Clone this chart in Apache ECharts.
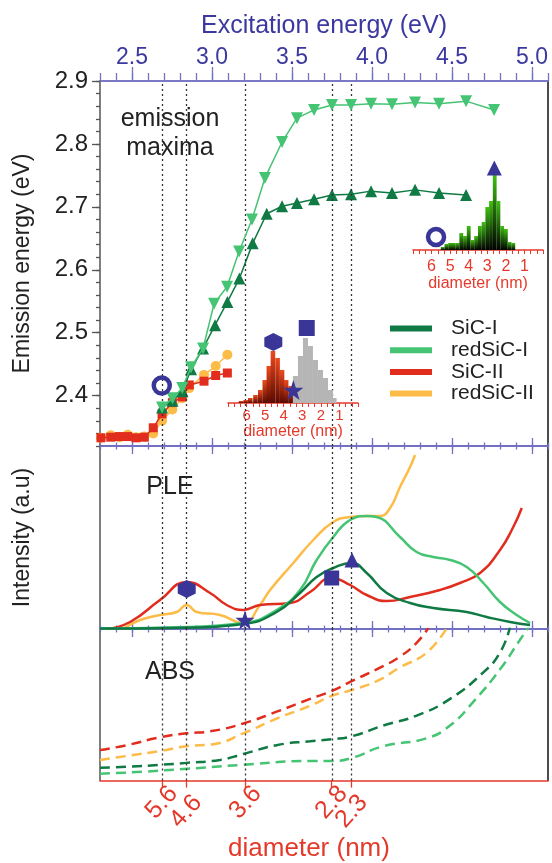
<!DOCTYPE html>
<html>
<head>
<meta charset="utf-8">
<script src="https://cdn.jsdelivr.net/npm/echarts@6/dist/echarts.min.js"></script>
<style>
html, body { margin: 0; padding: 0; background: #fff; }
#main { width: 552px; height: 863px; }
</style>
</head>
<body>
<div id="main"></div>
<script>
var FONT = 'Liberation Sans, Arial, sans-serif';
var BLUE = '#3a3697', AXBLUE = '#7471c4', LBLUE = '#3b38a0';
var RED = '#e5392b';
var C_SIC1 = '#0f7a44', C_RED1 = '#45c473', C_SIC2 = '#e12d1d', C_RED2 = '#fdbb47';

// tick labels
var exMajor = [2.5, 3.0, 3.5, 4.0, 4.5, 5.0];
var emMajor = [2.4, 2.5, 2.6, 2.7, 2.8, 2.9];
var diamEv = [2.686, 2.838, 3.21, 3.748, 3.873];
var diamLabels = ['5.6', '4.6', '3.6', '2.8', '2.3'];

// emission maxima (excitation eV -> emission eV)
var exSiC1 = [2.688, 2.753, 2.816, 2.869, 2.944, 3.019, 3.096, 3.171, 3.254, 3.342, 3.438, 3.531, 3.638, 3.750, 3.869, 3.994, 4.125, 4.269, 4.419, 4.588];
var emSiC1 = [2.381, 2.392, 2.407, 2.442, 2.475, 2.512, 2.549, 2.586, 2.642, 2.689, 2.701, 2.706, 2.712, 2.719, 2.720, 2.725, 2.722, 2.727, 2.722, 2.719];
var exRed1 = [2.688, 2.753, 2.814, 2.869, 2.944, 3.013, 3.094, 3.169, 3.250, 3.331, 3.438, 3.531, 3.638, 3.750, 3.869, 3.994, 4.125, 4.269, 4.419, 4.588, 4.763];
var emRed1 = [2.381, 2.396, 2.412, 2.445, 2.475, 2.546, 2.573, 2.629, 2.680, 2.746, 2.803, 2.841, 2.854, 2.862, 2.862, 2.864, 2.863, 2.866, 2.864, 2.868, 2.854];
var exSiC2 = [2.306, 2.367, 2.421, 2.473, 2.525, 2.577, 2.633, 2.688, 2.752, 2.814, 2.858, 2.950, 3.023, 3.096];
var emSiC2 = [2.333, 2.334, 2.335, 2.335, 2.333, 2.334, 2.349, 2.371, 2.389, 2.398, 2.417, 2.423, 2.432, 2.436];
var exRed2 = [2.306, 2.367, 2.421, 2.473, 2.525, 2.577, 2.633, 2.688, 2.752, 2.814, 2.858, 2.950, 3.023, 3.096];
var emRed2 = [2.333, 2.337, 2.334, 2.338, 2.334, 2.335, 2.340, 2.360, 2.378, 2.396, 2.412, 2.433, 2.447, 2.465];
var ringPt = [2.686, 2.416];

// PLE spectra (a.u.)
var pleXSiC1 = [2.300, 2.738, 3.196, 3.404, 3.550, 3.654, 3.758, 3.873, 3.967, 4.092, 4.238, 4.383, 4.592, 4.717, 4.863, 4.988];
var pleYSiC1 = [0.5, 1, 5, 17, 36, 52, 61, 66, 56, 36, 26, 21, 17, 12, 7, 4];
var pleXRed1 = [2.300, 2.738, 3.196, 3.404, 3.550, 3.654, 3.758, 3.863, 3.967, 4.029, 4.175, 4.279, 4.383, 4.488, 4.592, 4.696, 4.800, 4.904, 4.988];
var pleYRed1 = [0.5, 1.5, 6, 19, 39, 69, 92, 109, 113, 112, 92, 77, 72, 69, 62, 46, 27, 14, 6];
var pleXSiC2 = [2.342, 2.488, 2.675, 2.842, 2.988, 3.092, 3.196, 3.300, 3.488, 3.613, 3.748, 3.863, 3.967, 4.092, 4.238, 4.425, 4.550, 4.675, 4.800, 4.883, 4.936];
var pleYSiC2 = [0, 7, 29, 47, 36, 24, 19, 24, 26, 37, 51, 44, 34, 28, 32, 39, 46, 56, 79, 102, 121];
var pleXRed2 = [2.444, 2.550, 2.675, 2.779, 2.842, 2.904, 3.050, 3.196, 3.300, 3.363, 3.508, 3.633, 3.758, 3.863, 3.967, 4.050, 4.113, 4.175, 4.238, 4.269];
var pleYRed2 = [0, 9, 14, 17, 24, 17, 14, 6, 24, 39, 66, 89, 107, 112, 113, 113, 121, 142, 162, 174];
var pleHex = [2.842, 40], pleStar = [3.206, 9], pleSquare = [3.748, 51], pleTri = [3.875, 69];

// absorption (a.u.)
var absXSiC2 = [2.300, 2.467, 2.675, 2.842, 2.988, 3.196, 3.404, 3.613, 3.748, 3.873, 4.029, 4.175, 4.279, 4.352];
var absYSiC2 = [31, 36, 44, 48, 50, 58, 70, 83, 91, 101, 113, 126, 140, 155];
var absXRed2 = [2.300, 2.467, 2.675, 2.842, 3.008, 3.196, 3.404, 3.613, 3.748, 3.873, 4.029, 4.175, 4.342, 4.467];
var absYRed2 = [21, 25, 30, 35, 37, 48, 63, 76, 86, 92, 101, 115, 130, 155];
var absXSiC1 = [2.300, 2.467, 2.675, 2.842, 3.050, 3.196, 3.404, 3.613, 3.748, 3.873, 4.071, 4.279, 4.488, 4.696, 4.800, 4.863];
var absYSiC1 = [13, 14, 16, 18, 21, 27, 36, 40, 42, 45, 56, 66, 83, 110, 130, 156];
var absXRed1 = [2.300, 2.571, 2.842, 3.196, 3.613, 3.748, 3.873, 4.071, 4.342, 4.488, 4.633, 4.800, 4.925, 4.988];
var absYRed1 = [7, 9, 12, 16, 20, 20, 23, 35, 43, 56, 80, 113, 143, 158];

// size histograms (diameter nm -> counts)
var histDSiC1 = [5.4, 5.2, 5.0, 4.8, 4.6, 4.4, 4.2, 4.0, 3.8, 3.6, 3.4, 3.2, 3.0, 2.8, 2.6, 2.4, 2.2, 2.0, 1.8, 1.6];
var histNSiC1 = [3, 6, 7, 7, 7, 17, 14, 24, 10, 14, 24, 28, 43, 49, 75, 49, 24, 21, 8, 7];
var histDSiC2 = [6.3, 6.05, 5.8, 5.52, 5.26, 5.02, 4.8, 4.58, 4.33, 4.09, 3.87, 3.63];
var histNSiC2 = [2, 3, 5, 8, 13, 23, 37, 52, 45, 33, 23, 17];
var histDGray = [3.64, 3.37, 3.10, 2.83, 2.56, 2.29, 2.02, 1.75, 1.48, 1.29];
var histNGray = [10, 27, 47, 65, 57, 43, 33, 25, 13, 5];
var inTri = [2.62, 82], inRing = [5.76, 13];
var in2Hex = [4.56, 61], in2Star = [3.48, 13], in2Square = [2.76, 75];

var HEX = 'path://M50 0 L93.3 25 L93.3 75 L50 100 L6.7 75 L6.7 25 Z';
var STAR = 'path://M50 0 L61.8 35.4 L97.6 35.4 L68.5 57.3 L79.4 91.6 L50 70.8 L20.6 91.6 L31.5 57.3 L2.4 35.4 L38.2 35.4 Z';

function pairs(xs, ys) {
  var out = [];
  for (var i = 0; i < xs.length; i++) out.push([xs[i], ys[i]]);
  return out;
}

function diamFmt(v) {
  for (var i = 0; i < diamEv.length; i++) {
    if (Math.abs(v - diamEv[i]) < 0.005) return diamLabels[i];
  }
  return '';
}

// excitation energy axis, either the long (major) or the short (0.1 eV) ticks
function eAxis(grid, pos, major, inside, len, lineColor) {
  var ax = {
    gridIndex: grid, type: 'value', position: pos, min: 2.3, max: 5.1,
    axisLine: { show: true, onZero: false, lineStyle: { color: lineColor || AXBLUE, width: 1.5 } },
    axisTick: { show: true, inside: inside, length: len, lineStyle: { color: AXBLUE, width: 1.3 } },
    axisLabel: { show: false },
    splitLine: { show: false }
  };
  if (major) ax.axisTick.customValues = exMajor;
  else ax.interval = 0.1;
  return ax;
}

function plainY(grid, pos, max, color, extra) {
  var ax = {
    gridIndex: grid, type: 'value', position: pos, min: 0, max: max,
    axisLine: { show: true, onZero: false, lineStyle: { color: color, width: 1.5 } },
    axisTick: { show: false }, axisLabel: { show: false }, splitLine: { show: false }
  };
  for (var k in extra) ax[k] = extra[k];
  return ax;
}

function diamAxis(grid, show) {
  return {
    gridIndex: grid, type: 'value', min: 0, max: 7, inverse: true, interval: 1, position: 'bottom', show: show,
    axisLine: { show: true, onZero: false, lineStyle: { color: RED, width: 1.5 } },
    axisTick: { show: true, length: 4, lineStyle: { color: RED } },
    minorTick: { show: true, splitNumber: 3, length: 4, lineStyle: { color: RED } },
    axisLabel: { color: RED, fontSize: grid === 3 ? 16 : 15, margin: grid === 3 ? 9 : 5,
      formatter: function (v) { return (v >= 1 && v <= 6) ? String(v) : ''; } },
    splitLine: { show: false },
    name: 'diameter (nm)', nameLocation: 'middle', nameGap: grid === 3 ? 25 : 20,
    nameTextStyle: { color: RED, fontSize: 16 }
  };
}

var vlines = {
  silent: true, symbol: ['none', 'none'], label: { show: false }, animation: false,
  lineStyle: { type: [2, 3], color: '#333', width: 1.3 },
  data: diamEv.map(function (v) { return { xAxis: v }; })
};

function barGrad(top, bottom) {
  return new echarts.graphic.LinearGradient(0, 0, 0, 1, [
    { offset: 0, color: top }, { offset: 1, color: bottom }
  ]);
}

function marker(xi, yi, pt, sym, size, extra) {
  var s = {
    type: 'scatter', xAxisIndex: xi, yAxisIndex: yi, data: [pt],
    symbol: sym, symbolSize: size, z: 10, silent: true,
    itemStyle: { color: BLUE, opacity: 1 }
  };
  for (var k in extra) s[k] = extra[k];
  return s;
}

var ringStyle = { color: 'rgba(0,0,0,0)', borderColor: BLUE, borderWidth: 4.5, opacity: 1 };

var xTop = eAxis(0, 'top', true, false, 14);
xTop.axisLabel = { show: true, customValues: exMajor, color: LBLUE, fontSize: 23, margin: 12,
  formatter: function (v) { return v.toFixed(1); } };
xTop.name = 'Excitation energy (eV)';
xTop.nameLocation = 'middle';
xTop.nameGap = 42;
xTop.nameTextStyle = { color: LBLUE, fontSize: 25 };

var xBot = eAxis(2, 'bottom', false, false, 7, RED);
xBot.interval = null;
xBot.axisTick = { show: true, customValues: diamEv, length: 7, lineStyle: { color: RED, width: 1.3 } };
xBot.axisLabel = { show: true, customValues: [diamEv[0], diamEv[2], diamEv[3]], rotate: 48,
  align: 'center', verticalAlign: 'middle', margin: 22, color: RED, fontSize: 25, formatter: diamFmt };

var xBot2 = eAxis(2, 'bottom', false, false, 7, RED);
xBot2.interval = null;
xBot2.axisLine = { show: false, onZero: false };
xBot2.axisTick = { show: false };
xBot2.axisLabel = { show: true, customValues: [diamEv[1], diamEv[4]], rotate: 48,
  align: 'center', verticalAlign: 'middle', margin: 31, color: RED, fontSize: 25, formatter: diamFmt };
xBot2.name = 'diameter (nm)';
xBot2.nameLocation = 'middle';
xBot2.nameGap = 52;
xBot2.nameTextStyle = { color: RED, fontSize: 26, padding: [0, 30, 0, 0] };

var yEm = {
  gridIndex: 0, type: 'value', position: 'left', min: 2.32, max: 2.9,
  axisLine: { show: true, onZero: false, lineStyle: { color: '#555', width: 1.5 } },
  axisTick: { show: true, customValues: emMajor, length: 8, lineStyle: { color: '#555', width: 1.3 } },
  axisLabel: { show: true, customValues: emMajor, color: '#222', fontSize: 24, margin: 12,
    formatter: function (v) { return v.toFixed(1); } },
  splitLine: { show: false },
  name: 'Emission energy (eV)', nameLocation: 'middle', nameGap: 66,
  nameTextStyle: { color: '#222', fontSize: 23 }
};
var yEmMinor = {
  gridIndex: 0, type: 'value', position: 'left', min: 2.32, max: 2.9, interval: 0.02,
  axisLine: { show: false, onZero: false },
  axisTick: { show: true, length: 4, lineStyle: { color: '#555', width: 1.3 } },
  axisLabel: { show: false }, splitLine: { show: false }
};

var option = {
  animation: false,
  textStyle: { fontFamily: FONT },
  grid: [
    { left: 100, right: 4, top: 81, height: 365 },
    { left: 100, right: 4, top: 446, height: 183 },
    { left: 100, right: 4, top: 629, height: 154 },
    { left: 413, width: 130, top: 160, height: 90 },
    { left: 228, width: 130, top: 313, height: 90 }
  ],
  xAxis: [
    xTop,                                   // 0
    eAxis(0, 'top', false, false, 8),       // 1
    eAxis(0, 'bottom', true, true, 8),      // 2
    eAxis(0, 'bottom', false, true, 3.5),   // 3
    eAxis(1, 'top', true, true, 8),         // 4
    eAxis(1, 'top', false, true, 3.5),      // 5
    eAxis(1, 'bottom', true, true, 8),      // 6
    eAxis(1, 'bottom', false, true, 3.5),   // 7
    eAxis(2, 'top', true, true, 8),         // 8
    eAxis(2, 'top', false, true, 3.5),      // 9
    xBot,                                   // 10
    xBot2,                                  // 11
    diamAxis(3, true),                      // 12
    diamAxis(4, true),                      // 13
    diamAxis(4, false)                      // 14
  ],
  yAxis: [
    yEm,                                                            // 0
    yEmMinor,                                                       // 1
    plainY(0, 'right', 1, '#111'),                                  // 2
    plainY(1, 'left', 183, '#555', { name: 'Intensity (a.u)', nameLocation: 'middle', nameGap: 66,
      nameTextStyle: { color: '#222', fontSize: 23 } }),            // 3
    plainY(1, 'right', 1, '#111'),                                  // 4
    plainY(2, 'left', 154, '#555'),                                 // 5
    plainY(2, 'right', 1, '#111'),                                  // 6
    plainY(3, 'left', 90, '#fff', { show: false }),                 // 7
    plainY(4, 'left', 90, '#fff', { show: false })                  // 8
  ],
  legend: {
    data: ['SiC-I', 'redSiC-I', 'SiC-II', 'redSiC-II'],
    orient: 'vertical', left: 390, top: 318, padding: 0,
    icon: 'rect', itemWidth: 42, itemHeight: 6, itemGap: 0.7,
    textStyle: { fontSize: 21, color: '#222', lineHeight: 20, padding: [0, 0, 0, 14] },
    selectedMode: false
  },
  graphic: [
    { type: 'text', x: 170, y: 119, style: { text: 'emission', fontSize: 25, fontFamily: FONT, fill: '#222', align: 'center', verticalAlign: 'middle' } },
    { type: 'text', x: 170, y: 148, style: { text: 'maxima', fontSize: 25, fontFamily: FONT, fill: '#222', align: 'center', verticalAlign: 'middle' } },
    { type: 'text', x: 170, y: 487, style: { text: 'PLE', fontSize: 25, fontFamily: FONT, fill: '#222', align: 'center', verticalAlign: 'middle' } },
    { type: 'text', x: 170, y: 672, style: { text: 'ABS', fontSize: 25, fontFamily: FONT, fill: '#222', align: 'center', verticalAlign: 'middle' } }
  ],
  series: [
    // emission maxima
    { name: 'SiC-I', type: 'line', xAxisIndex: 0, yAxisIndex: 0, data: pairs(exSiC1, emSiC1),
      symbol: 'triangle', symbolSize: 12, itemStyle: { color: C_SIC1 }, lineStyle: { color: C_SIC1, width: 1.5 }, z: 4,
      markLine: vlines },
    { name: 'redSiC-I', type: 'line', xAxisIndex: 0, yAxisIndex: 0, data: pairs(exRed1, emRed1),
      symbol: 'triangle', symbolRotate: 180, symbolSize: 12, itemStyle: { color: C_RED1 }, lineStyle: { color: C_RED1, width: 1.5 }, z: 5 },
    { name: 'redSiC-II', type: 'line', xAxisIndex: 0, yAxisIndex: 0, data: pairs(exRed2, emRed2),
      symbol: 'circle', symbolSize: 10, itemStyle: { color: C_RED2 }, lineStyle: { color: C_RED2, width: 1.5 }, z: 2 },
    { name: 'SiC-II', type: 'line', xAxisIndex: 0, yAxisIndex: 0, data: pairs(exSiC2, emSiC2),
      symbol: 'rect', symbolSize: 9, itemStyle: { color: C_SIC2 }, lineStyle: { color: C_SIC2, width: 1.5 }, z: 3 },
    marker(0, 0, ringPt, 'circle', 16, { itemStyle: ringStyle }),

    // PLE
    { name: 'SiC-II', type: 'line', xAxisIndex: 4, yAxisIndex: 3, data: pairs(pleXSiC2, pleYSiC2), smooth: 0.5,
      showSymbol: false, lineStyle: { color: C_SIC2, width: 2.5 }, itemStyle: { color: C_SIC2 }, z: 3, markLine: vlines },
    { name: 'redSiC-II', type: 'line', xAxisIndex: 4, yAxisIndex: 3, data: pairs(pleXRed2, pleYRed2), smooth: 0.5,
      showSymbol: false, lineStyle: { color: C_RED2, width: 2.5 }, itemStyle: { color: C_RED2 }, z: 2 },
    { name: 'redSiC-I', type: 'line', xAxisIndex: 4, yAxisIndex: 3, data: pairs(pleXRed1, pleYRed1), smooth: 0.5,
      showSymbol: false, lineStyle: { color: C_RED1, width: 2.5 }, itemStyle: { color: C_RED1 }, z: 3 },
    { name: 'SiC-I', type: 'line', xAxisIndex: 4, yAxisIndex: 3, data: pairs(pleXSiC1, pleYSiC1), smooth: 0.5,
      showSymbol: false, lineStyle: { color: C_SIC1, width: 2.5 }, itemStyle: { color: C_SIC1 }, z: 4 },
    marker(4, 3, pleHex, HEX, 18),
    marker(4, 3, pleStar, STAR, 19),
    marker(4, 3, pleSquare, 'rect', 15),
    marker(4, 3, pleTri, 'triangle', 15),

    // ABS
    { name: 'SiC-II', type: 'line', xAxisIndex: 8, yAxisIndex: 5, data: pairs(absXSiC2, absYSiC2), smooth: 0.5,
      showSymbol: false, lineStyle: { color: C_SIC2, width: 2.5, type: [10, 6] }, itemStyle: { color: C_SIC2 }, markLine: vlines },
    { name: 'redSiC-II', type: 'line', xAxisIndex: 8, yAxisIndex: 5, data: pairs(absXRed2, absYRed2), smooth: 0.5,
      showSymbol: false, lineStyle: { color: C_RED2, width: 2.5, type: [10, 6] }, itemStyle: { color: C_RED2 } },
    { name: 'SiC-I', type: 'line', xAxisIndex: 8, yAxisIndex: 5, data: pairs(absXSiC1, absYSiC1), smooth: 0.5,
      showSymbol: false, lineStyle: { color: C_SIC1, width: 2.5, type: [10, 6] }, itemStyle: { color: C_SIC1 } },
    { name: 'redSiC-I', type: 'line', xAxisIndex: 8, yAxisIndex: 5, data: pairs(absXRed1, absYRed1), smooth: 0.5,
      showSymbol: false, lineStyle: { color: C_RED1, width: 2.5, type: [10, 6] }, itemStyle: { color: C_RED1 } },

    // inset histograms
    { type: 'bar', xAxisIndex: 12, yAxisIndex: 7, data: pairs(histDSiC1, histNSiC1), barWidth: 3.8, z: 6,
      itemStyle: { color: barGrad('#3fbf12', '#000') } },
    marker(12, 7, inTri, 'triangle', 15),
    marker(12, 7, inRing, 'circle', 16, { itemStyle: ringStyle }),
    { type: 'bar', xAxisIndex: 14, yAxisIndex: 8, data: pairs(histDGray, histNGray), barWidth: 5, z: 6,
      itemStyle: { color: '#b5b5b5' } },
    { type: 'bar', xAxisIndex: 13, yAxisIndex: 8, data: pairs(histDSiC2, histNSiC2), barWidth: 4.6, z: 7,
      itemStyle: { color: barGrad('#ee4a1e', '#5a0a00') } },
    marker(13, 8, in2Hex, HEX, 18),
    marker(13, 8, in2Star, STAR, 20),
    marker(13, 8, in2Square, 'rect', 16)
  ]
};

var chart = echarts.init(document.getElementById('main'), null, { renderer: 'canvas' });
chart.setOption(option);
</script>
</body>
</html>
